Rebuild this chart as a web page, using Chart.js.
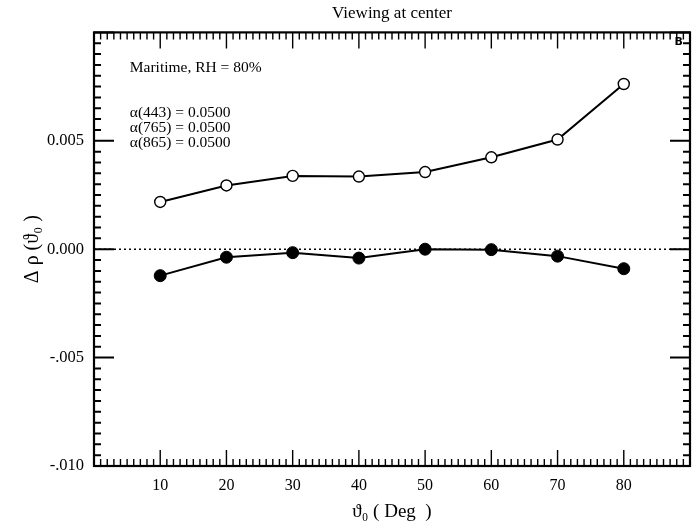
<!DOCTYPE html>
<html>
<head>
<meta charset="utf-8">
<script src="https://cdn.jsdelivr.net/npm/chart.js@4/dist/chart.umd.min.js"></script>
<style>
html,body{margin:0;padding:0;background:#fff;}
#wrap{width:700px;height:531px;position:relative;}
</style>
</head>
<body>
<div id="wrap"><canvas id="c" width="700" height="531"></canvas></div>
<script>
// ---- data ----
const angles = [10, 20, 30, 40, 50, 60, 70, 80];
const openSeries = [0.00218, 0.00294, 0.00338, 0.00335, 0.00356, 0.00424, 0.00506, 0.00762];
const filledSeries = [-0.00122, -0.00037, -0.00016, -0.00041, 0.00000, -0.00002, -0.00032, -0.00090];
const yTickValues = [-0.010, -0.005, 0.000, 0.005];
const yTickLabels = ["-.010", "-.005", "0.000", "0.005"];
const xTickLabels = ["10", "20", "30", "40", "50", "60", "70", "80"];
const titleText = "Viewing at center";
const xTitle = "\u03D1\u2080 ( Deg  )";
const yTitle = "\u0394 \u03C1 (\u03D1\u2080 )";
const annotLines = ["Maritime, RH = 80%", "\u03B1(443) = 0.0500", "\u03B1(765) = 0.0500", "\u03B1(865) = 0.0500"];
const panelLetter = "B";

const serif = "'Liberation Serif', 'Times New Roman', serif";

const framePlugin = {
  id: 'frame',
  afterDatasetsDraw(chart) {
    const {ctx, chartArea: a, scales: {x, y}} = chart;
    ctx.save();
    // zero dotted line
    const y0 = y.getPixelForValue(0);
    ctx.strokeStyle = '#000';
    ctx.lineWidth = 1.6;
    ctx.setLineDash([2, 3]);
    ctx.beginPath();
    ctx.moveTo(a.left, y0); ctx.lineTo(a.right, y0);
    ctx.stroke();
    ctx.setLineDash([]);
    // frame
    ctx.lineWidth = 2.2;
    ctx.strokeRect(a.left, a.top, a.right - a.left, a.bottom - a.top);
    // x ticks
    ctx.lineWidth = 1.4;
    for (let v = 0; v <= 90; v += 1) {
      const px = x.getPixelForValue(v);
      const len = (v % 10 === 0) ? 16 : 7;
      ctx.beginPath();
      ctx.moveTo(px, a.bottom); ctx.lineTo(px, a.bottom - len);
      ctx.moveTo(px, a.top); ctx.lineTo(px, a.top + len);
      ctx.stroke();
    }
    // y ticks
    ctx.lineWidth = 2;
    for (let i = -20; i <= 20; i++) {
      const v = i * 0.0005;
      const py = y.getPixelForValue(v);
      const len = (i % 10 === 0) ? 20 : 7;
      ctx.beginPath();
      ctx.moveTo(a.left, py); ctx.lineTo(a.left + len, py);
      ctx.moveTo(a.right, py); ctx.lineTo(a.right - len, py);
      ctx.stroke();
    }
    // annotations
    ctx.fillStyle = '#000';
    ctx.font = "15.5px " + serif;
    ctx.textBaseline = 'middle';
    ctx.textAlign = 'left';
    const tx = x.getPixelForValue(5.4);
    const ys = [68, 113, 128, 143];
    annotLines.forEach((t, i) => ctx.fillText(t, tx, ys[i]));
    ctx.font = "bold 11px 'DejaVu Sans', sans-serif";
    ctx.textAlign = 'right';
    ctx.fillText(panelLetter, a.right - 7, a.top + 10);
    ctx.restore();
  }
};

new Chart(document.getElementById('c'), {
  type: 'line',
  data: {
    datasets: [
      {
        data: angles.map((a, i) => ({x: a, y: openSeries[i]})),
        borderColor: '#000', borderWidth: 2,
        pointStyle: 'circle', pointRadius: 5.5, pointBorderWidth: 1.4,
        pointBackgroundColor: '#fff', pointBorderColor: '#000',
        tension: 0
      },
      {
        data: angles.map((a, i) => ({x: a, y: filledSeries[i]})),
        borderColor: '#000', borderWidth: 2,
        pointStyle: 'circle', pointRadius: 6, pointBorderWidth: 1,
        pointBackgroundColor: '#000', pointBorderColor: '#000',
        tension: 0
      }
    ]
  },
  options: {
    responsive: false,
    animation: false,
    devicePixelRatio: 1,
    layout: {padding: {left: 0, right: 10, top: 0, bottom: 0}},
    plugins: {
      legend: {display: false},
      tooltip: {enabled: false},
      title: {
        display: true, text: titleText, fullSize: false,
        color: '#000', font: {family: serif, size: 17, weight: 'normal'},
        padding: {top: 3, bottom: 9}
      }
    },
    scales: {
      x: {
        type: 'linear', min: 0, max: 90,
        afterFit(s) { s.height = 65; },
        grid: {display: false}, border: {display: false},
        ticks: {
          stepSize: 10, color: '#000', padding: 2,
          font: {family: serif, size: 16},
          maxRotation: 0,
          callback: (v) => { const i = xTickLabels.indexOf(String(v)); return i >= 0 ? xTickLabels[i] : ''; }
        },
        title: {display: true, text: xTitle, color: '#000', font: {family: serif, size: 19}, padding: {top: 0, bottom: 8}}
      },
      y: {
        type: 'linear', min: -0.010, max: 0.010,
        afterFit(s) { s.width = 94; },
        grid: {display: false}, border: {display: false},
        ticks: {
          stepSize: 0.005, color: '#000', padding: 2,
          font: {family: serif, size: 16.5},
          callback: (v) => {
            const i = yTickValues.findIndex(t => Math.abs(t - v) < 1e-9);
            return i >= 0 ? yTickLabels[i] : '';
          }
        },
        title: {display: true, text: yTitle, color: '#000', font: {family: serif, size: 20}, padding: {top: 21, bottom: 0}}
      }
    }
  },
  plugins: [framePlugin]
});
</script>
</body>
</html>
